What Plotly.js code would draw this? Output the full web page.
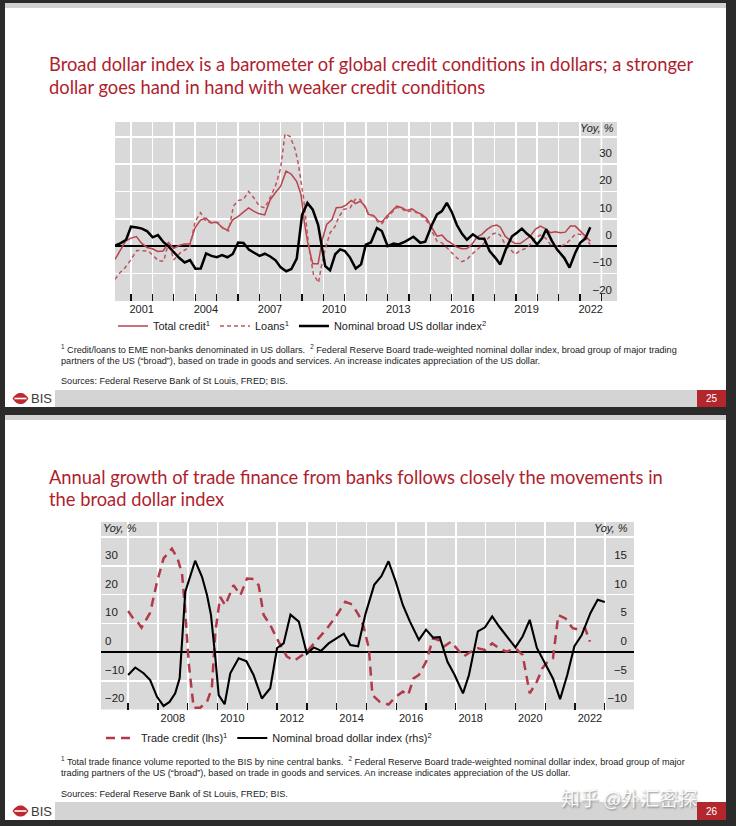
<!DOCTYPE html>
<html><head><meta charset="utf-8">
<script src="https://cdn.plot.ly/plotly-3.0.1.min.js"></script>
<style>html,body{margin:0;padding:0;background:#2b2b2b;overflow:hidden}#chart{width:736px;height:826px}</style>
</head><body><div id="chart"></div><script>
// ---------- Chart 1 data (Yoy, %) ----------
const c1DollarX = [2000.25,2000.52,2000.77,2001.0,2001.27,2001.51,2001.76,2002.01,2002.26,2002.51,2002.76,2003.01,2003.26,2003.51,2003.76,2004.01,2004.26,2004.51,2004.76,2005.01,2005.26,2005.51,2005.76,2006.01,2006.26,2006.51,2006.76,2007.01,2007.26,2007.51,2007.76,2008.0,2008.26,2008.5,2008.75,2009.0,2009.25,2009.5,2009.75,2009.92,2010.08,2010.31,2010.55,2010.78,2011.0,2011.25,2011.51,2011.76,2011.98,2012.22,2012.5,2012.73,2013.0,2013.28,2013.51,2013.82,2014.21,2014.53,2014.76,2015.07,2015.31,2015.54,2015.77,2016.0,2016.24,2016.48,2016.71,2016.99,2017.26,2017.52,2017.77,2018.04,2018.27,2018.53,2018.82,2019.05,2019.28,2019.52,2019.75,2019.99,2020.22,2020.42,2020.69,2020.92,2021.26,2021.51,2021.78,2022.01,2022.25,2022.48];
const c1DollarY = [0.2,1.1,2.3,7.1,6.8,6.4,5.4,3.2,4.0,1.5,-0.2,-2.3,-4.4,-6.0,-5.1,-8.3,-8.2,-2.7,-3.6,-4.1,-3.3,-4.1,-2.9,1.3,1.1,-1.3,-2.3,-3.6,-2.8,-3.8,-5.2,-7.8,-9.2,-8.4,-4.6,11.4,15.8,13.3,7.8,0.6,-7.3,-8.9,-3.0,-1.2,-1.8,-4.3,-8.2,-6.7,0.5,1.3,6.6,5.5,0.0,0.9,0.6,1.6,3.4,1.2,1.6,7.7,11.6,12.8,15.8,12.5,7.7,4.5,2.3,4.3,2.8,2.7,-1.8,-4.3,-6.7,-1.2,3.6,4.9,6.4,4.5,3.0,0.6,2.8,6.1,1.8,-1.2,-4.3,-7.9,-2.4,1.2,2.8,6.9];

const c1CreditX = [2000.25,2000.5,2000.75,2001.0,2001.25,2001.5,2001.75,2002.0,2002.25,2002.5,2002.75,2003.0,2003.25,2003.5,2003.75,2004.0,2004.25,2004.5,2004.75,2005.0,2005.25,2005.5,2005.75,2006.0,2006.25,2006.5,2006.75,2007.0,2007.25,2007.5,2007.75,2008.0,2008.25,2008.5,2008.75,2008.95,2009.1,2009.25,2009.5,2009.75,2009.95,2010.15,2010.4,2010.6,2010.85,2011.05,2011.3,2011.5,2011.72,2011.95,2012.11,2012.34,2012.58,2012.73,2012.97,2013.2,2013.43,2013.67,2013.9,2014.14,2014.37,2014.6,2014.84,2015.07,2015.31,2015.54,2015.77,2016.01,2016.24,2016.48,2016.71,2016.94,2017.18,2017.41,2017.65,2017.88,2018.11,2018.27,2018.5,2018.74,2018.97,2019.21,2019.44,2019.67,2019.91,2020.14,2020.38,2020.61,2020.84,2021.08,2021.31,2021.55,2021.78,2022.01,2022.24,2022.48];
const c1CreditY = [-4.9,-1.5,1.9,2.9,3.5,1.0,-0.5,-1.0,-2.0,-1.8,1.2,-0.8,0.2,0.8,0.8,6.8,9.5,10.2,8.5,8.8,6.8,5.8,9.6,10.8,12.3,14.0,12.7,11.8,11.4,16.8,19.5,21.9,27.4,26.3,23.6,18.9,9.1,1.8,-6.5,-6.5,2.4,7.9,9.7,14.0,14.2,15.0,16.7,15.5,16.4,14.6,11.6,11.2,9.1,8.8,11.0,13.0,14.6,14.0,13.0,13.6,12.4,11.6,10.0,6.7,3.6,4.0,2.1,0.9,-0.4,-1.0,-0.9,0.6,3.3,4.3,6.1,7.3,7.7,6.9,3.6,2.1,0.9,0.9,2.1,3.6,6.1,7.3,6.4,4.9,5.2,4.9,5.1,7.3,7.3,5.5,3.6,1.8];

const c1LoansX = [2000.25,2000.49,2000.72,2000.95,2001.27,2001.58,2001.81,2002.05,2002.3,2002.53,2002.76,2003.0,2003.3,2003.6,2003.75,2004.0,2004.25,2004.5,2004.75,2005.09,2005.32,2005.56,2005.79,2006.02,2006.25,2006.5,2006.75,2007.0,2007.25,2007.5,2007.75,2008.0,2008.2,2008.44,2008.68,2008.83,2009.07,2009.3,2009.53,2009.77,2009.89,2010.08,2010.31,2010.55,2010.7,2010.94,2011.25,2011.48,2011.72,2011.95,2012.11,2012.34,2012.58,2012.73,2012.97,2013.2,2013.43,2013.67,2013.9,2014.14,2014.37,2014.6,2014.84,2015.07,2015.31,2015.54,2015.77,2016.01,2016.24,2016.48,2016.71,2016.94,2017.18,2017.41,2017.65,2017.88,2018.11,2018.27,2018.5,2018.74,2018.97,2019.21,2019.44,2019.67,2019.91,2020.14,2020.38,2020.61,2020.84,2021.08,2021.31,2021.55,2021.78,2022.01,2022.24,2022.48];
const c1LoansY = [-12.2,-9.7,-7.9,-5.5,-1.6,-1.8,-1.8,-3.6,-5.5,-5.5,1.5,-5.0,-2.5,-1.0,-0.1,9.0,12.2,9.1,8.5,8.5,6.3,5.5,14.6,16.7,17.0,20.0,17.6,14.6,14.0,17.6,21.9,28.6,41.0,40.1,35.3,29.8,17.6,0.6,-10.3,-13.4,-7.9,-1.2,4.9,7.3,10.3,13.4,14.0,17.0,17.0,14.2,11.3,11.0,8.5,8.2,10.3,12.5,14.2,13.6,12.5,13.0,12.2,11.0,9.1,5.5,1.8,1.2,-0.6,-2.4,-4.3,-5.7,-4.9,-3.0,-1.2,0.2,2.4,4.3,4.9,4.0,0.6,-1.2,-3.0,-1.6,-0.9,0.6,3.0,4.0,3.0,0.6,0.0,0.0,0.6,2.4,4.3,4.3,2.8,0.6];

const c1YearLabels = ['2001','2004','2007','2010','2013','2016','2019','2022'];
const c1YTicks = [-20,-10,0,10,20,30,40];
const c1YText = ['\u221220','\u221210','0','10','20','30',''];

// ---------- Chart 2 data ----------
const c2TradeX = [2007.0,2007.17,2007.33,2007.45,2007.74,2007.97,2008.19,2008.47,2008.66,2008.81,2008.92,2009.03,2009.2,2009.42,2009.65,2009.81,2009.93,2010.09,2010.26,2010.54,2010.77,2010.99,2011.21,2011.38,2011.55,2011.77,2012.05,2012.33,2012.58,2013.0,2013.34,2013.68,2014.01,2014.29,2014.52,2014.74,2014.9,2015.08,2015.2,2015.44,2015.74,2015.98,2016.22,2016.4,2016.58,2016.76,2017.0,2017.24,2017.42,2017.6,2017.84,2018.02,2018.26,2018.5,2018.74,2018.98,2019.22,2019.46,2019.7,2020.0,2020.24,2020.48,2020.72,2020.9,2021.08,2021.26,2021.44,2021.68,2021.92,2022.16,2022.34,2022.5];
const c2TradeY = [14.3,11.7,10.3,8.5,13.7,24.4,32.6,36.0,32.6,27.3,14.0,-3.4,-19.4,-19.4,-17.3,-12.6,7.1,19.2,16.3,23.3,19.8,25.6,25.4,23.3,12.9,9.4,3.6,-1.6,-3.0,0.1,4.2,8.2,12.9,17.5,16.6,12.9,9.0,1.3,-15.0,-17.3,-18.3,-15.6,-13.8,-15.0,-9.2,-8.0,-3.4,4.8,4.2,1.9,3.6,1.3,-1.6,0.1,1.3,0.7,3.0,1.3,0.1,1.3,-1.0,-14.4,-10.3,-5.7,-3.4,-2.2,12.9,11.7,8.3,7.7,8.3,3.6];

const c2DollarX = [2007.0,2007.24,2007.52,2007.74,2007.97,2008.19,2008.39,2008.58,2008.73,2008.92,2009.25,2009.48,2009.65,2009.78,2009.93,2010.04,2010.24,2010.43,2010.71,2010.97,2011.21,2011.49,2011.77,2012.0,2012.22,2012.45,2012.73,2013.0,2013.23,2013.48,2013.73,2014.01,2014.24,2014.46,2014.72,2014.96,2015.26,2015.5,2015.74,2015.98,2016.22,2016.46,2016.76,2017.0,2017.24,2017.46,2017.72,2017.96,2018.24,2018.44,2018.74,2018.98,2019.22,2019.46,2019.7,2020.0,2020.24,2020.48,2020.72,2020.96,2021.26,2021.5,2021.74,2021.98,2022.22,2022.52,2022.76,2023.0];
const c2DollarY = [-4.0,-2.7,-3.7,-4.9,-7.8,-9.4,-8.7,-7.2,-4.6,10.5,15.9,13.1,9.9,6.5,-1.1,-7.5,-9.1,-3.7,-1.1,-1.6,-4.0,-8.1,-6.3,0.7,1.5,6.5,5.3,-0.3,0.8,0.2,1.5,2.4,3.2,1.2,1.0,6.5,11.7,13.2,15.8,12.3,8.2,5.3,2.1,3.9,2.5,2.6,-1.7,-4.0,-7.2,-4.0,3.6,4.3,6.2,4.4,2.7,0.8,2.7,5.6,0.7,-1.7,-4.6,-8.2,-4.0,1.0,2.9,6.8,9.1,8.7];

const c2YearLabels = ['2008','2010','2012','2014','2016','2018','2020','2022'];
const c2LTicks = [-20,-10,0,10,20,30,40];
const c2LText = ['\u221220','\u221210','0','10','20','30',''];
const c2RTicks = [-10,-5,0,5,10,15];
const c2RText = ['\u221210','\u22125','0','5','10','15'];

// ---------- text ----------
const t1a = 'Broad dollar index is a barometer of global credit conditions in dollars; a stronger';
const t1b = 'dollar goes hand in hand with weaker credit conditions';
const t2a = 'Annual growth of trade finance from banks follows closely the movements in';
const t2b = 'the broad dollar index';
const f1a = ['1', ' Credit/loans to EME non-banks denominated in US dollars.\u00a0 ', '2', ' Federal Reserve Board trade-weighted nominal dollar index, broad group of major trading'];
const f1b = 'partners of the US (\u201cbroad\u201d), based on trade in goods and services. An increase indicates appreciation of the US dollar.';
const f2a = ['1', ' Total trade finance volume reported to the BIS by nine central banks.\u00a0 ', '2', ' Federal Reserve Board trade-weighted nominal dollar index, broad group of major'];
const f2b = 'trading partners of the US (\u201cbroad\u201d), based on trade in goods and services. An increase indicates appreciation of the US dollar.';
const src = 'Sources: Federal Reserve Bank of St Louis, FRED; BIS.';

// ---------- layout helpers ----------
const W = 736, H = 826;
const px = x => x / W;
const py = y => 1 - y / H;
const FT = 'Lato, "Open Sans", sans-serif';
const FN = '"Liberation Sans", Arial, sans-serif';
const RED = '#b01e2e';
const GRAY = '#d9d9d9';

const cv = document.createElement('canvas').getContext('2d');
function measure(text, family, size) { cv.font = size + 'px ' + family; return cv.measureText(text).width; }
function fit(text, family, target) { return 100 * target / measure(text, family, 100); }

const titleSize = Math.min(19, fit(t1a, FT, 646));
const noteSize = Math.min(10, fit(f2a.join(''), FN, 628));
const legendSize = Math.min(12, fit('Nominal broad US dollar index', FN, 148));
const tickSize = 11;

function rect(x0, y0, x1, y1, fill) {
  return {type:'rect', xref:'paper', yref:'paper', x0:px(x0), x1:px(x1), y0:py(y1), y1:py(y0),
          fillcolor:fill, line:{width:0}, layer:'below'};
}
function txt(x, y, text, font, extra) {
  return Object.assign({xref:'paper', yref:'paper', x:px(x), y:py(y), text:text, showarrow:false,
    xanchor:'left', yanchor:'middle', borderpad:0, font:font}, extra || {});
}
function logo(cx, cy) {
  const p = (x, y) => px(x).toFixed(5) + ',' + py(y).toFixed(5);
  const path = 'M' + p(cx-8, cy) + ' Q' + p(cx-4, cy-6) + ' ' + p(cx, cy-5.5) + ' Q' + p(cx+4, cy-6) + ' ' + p(cx+8, cy) +
               ' Q' + p(cx+4, cy+6) + ' ' + p(cx, cy+5.5) + ' Q' + p(cx-4, cy+6) + ' ' + p(cx-8, cy) + ' Z';
  return [
    {type:'path', xref:'paper', yref:'paper', path:path, fillcolor:'#c0282f', line:{width:0}, layer:'below'},
    {type:'line', xref:'paper', yref:'paper', x0:px(cx-6), x1:px(cx+6), y0:py(cy), y1:py(cy), line:{color:'#ffffff', width:1.6}, layer:'below'}
  ];
}
const note = parts => '<sup>' + parts[0] + '</sup>' + parts[1] + '<sup>' + parts[2] + '</sup>' + parts[3];
// year gridline through the label column (plotly hides grid behind inside labels)
const yearGrid = (xr, yr, yearVal) => ({type:'line', xref:xr, yref:yr + ' domain', x0:yearVal, x1:yearVal, y0:0, y1:1,
                                       line:{color:'#ffffff', width:1.6}, layer:'below'});

const shapes = [
  rect(5, 3, 726, 407, '#ffffff'),
  rect(5, 3, 726, 8, '#d2d2d2'),
  rect(5, 390, 726, 407, '#d4d4d4'),
  rect(5, 390, 55, 407, '#ffffff'),
  rect(697, 390, 726, 407, '#b3262c'),
  rect(115, 122, 617, 301, GRAY),
  rect(5, 415, 726, 820, '#ffffff'),
  rect(5, 415, 726, 420, '#d2d2d2'),
  rect(5, 802, 726, 820, '#d4d4d4'),
  rect(5, 802, 55, 820, '#ffffff'),
  rect(697, 802, 726, 820, '#b3262c'),
  rect(101, 522, 634, 709.5, GRAY),
  yearGrid('x', 'y', 2023),
  yearGrid('x2', 'y2', 2007),
  yearGrid('x2', 'y2', 2023)
].concat(logo(20.5, 398.5), logo(20.5, 811));

const fTitle = {family:FT, size:titleSize, color:RED};
const fNote = {family:FN, size:noteSize, color:'#222'};
const fYoy = {family:FN, size:11, color:'#222', style:'italic'};
const annotations = [
  txt(48, 64, t1a, fTitle),
  txt(48, 87, t1b, fTitle),
  txt(615, 128, 'Yoy, %', fYoy, {xanchor:'right'}),
  txt(60, 349, note(f1a), fNote),
  txt(60, 361, f1b, fNote),
  txt(60, 381, src, fNote),
  txt(30, 398.5, 'BIS', {family:FN, size:13, color:'#3a3a3a'}),
  txt(711.5, 398.5, '25', {family:FN, size:10, color:'#ffffff'}, {xanchor:'center'}),
  txt(48, 477, t2a, fTitle),
  txt(48, 499, t2b, fTitle),
  txt(102, 528, 'Yoy, %', fYoy),
  txt(629, 528, 'Yoy, %', fYoy, {xanchor:'right'}),
  txt(60, 761, note(f2a), fNote),
  txt(60, 773, f2b, fNote),
  txt(60, 794, src, fNote),
  txt(30, 811, 'BIS', {family:FN, size:13, color:'#3a3a3a'}),
  txt(711.5, 811, '26', {family:FN, size:10, color:'#ffffff'}, {xanchor:'center'}),
  txt(560, 797, '\u77e5\u4e4e @\u5916\u6c47\u5bc6\u63a2',
      {family:'"Noto Sans CJK SC",sans-serif', size:19, color:'rgba(255,255,255,0.92)', shadow:'1px 1px 2px #777'})
];

function yearAxis(domain, range, labels, anchor) {
  return {
    domain: domain, anchor: anchor, range: range, type:'linear',
    tickmode:'array', tickvals: labels.map(s => Number(s) + 0.5), ticktext: labels,
    ticks:'', showgrid:false, zeroline:false, showline:false, ticklabeloverflow:'allow',
    tickfont:{family:FN, size:tickSize, color:'#222'},
    minor:{tickmode:'linear', tick0:2000, dtick:1, ticks:'inside', ticklen:7, tickwidth:1.3, tickcolor:'#111',
           showgrid:true, gridcolor:'#ffffff', gridwidth:1.6},
    fixedrange:true
  };
}

const traces = [
  {x:c1CreditX, y:c1CreditY, type:'scatter', mode:'lines', name:'Total credit<sup>1</sup>',
   line:{color:'#b8434d', width:1.5}, xaxis:'x', yaxis:'y', legend:'legend'},
  {x:c1LoansX, y:c1LoansY, type:'scatter', mode:'lines', name:'Loans<sup>1</sup>',
   line:{color:'#c0545d', width:1.5, dash:'4px,3px'}, xaxis:'x', yaxis:'y', legend:'legend'},
  {x:c1DollarX, y:c1DollarY, type:'scatter', mode:'lines', name:'Nominal broad US dollar index<sup>2</sup>',
   line:{color:'#000000', width:2.5}, xaxis:'x', yaxis:'y', legend:'legend'},
  {x:c2TradeX, y:c2TradeY, type:'scatter', mode:'lines', name:'Trade credit (lhs)<sup>1</sup>',
   line:{color:'#b03a4a', width:2.5, dash:'9px,6px'}, xaxis:'x2', yaxis:'y2', legend:'legend2'},
  {x:c2DollarX, y:c2DollarY, type:'scatter', mode:'lines', name:'Nominal broad dollar index (rhs)<sup>2</sup>',
   line:{color:'#000000', width:2.1}, xaxis:'x2', yaxis:'y3', legend:'legend2'}
];

const c2LRange = [-20.03, 45.3];
const yFont = {family:FN, size:tickSize + 0.5, color:'#222'};
const layout = {
  width: W, height: H, margin:{l:0, r:0, t:0, b:0, pad:0},
  paper_bgcolor:'#2b2b2b', plot_bgcolor:'rgba(0,0,0,0)',
  font:{family:FN, color:'#222'},
  showlegend:true,
  xaxis: yearAxis([px(115), px(617)], [2000.25, 2023.73], c1YearLabels, 'y'),
  yaxis: {domain:[py(301), py(122)], anchor:'x', side:'right', range:[-20.1, 45.4],
          tickmode:'array', tickvals:c1YTicks, ticktext:c1YText, ticks:'',
          ticklabelposition:'inside', ticklabelshift:-11, ticklabelstandoff:2, ticklabeloverflow:'allow',
          showgrid:true, gridcolor:'#ffffff', gridwidth:1.6,
          zeroline:true, zerolinecolor:'#000000', zerolinewidth:2,
          showline:false, tickfont:yFont, fixedrange:true},
  xaxis2: yearAxis([px(101), px(634)], [2006.09, 2023.98], c2YearLabels, 'y2'),
  yaxis2: {domain:[py(709.5), py(522)], anchor:'x2', side:'left', range:c2LRange,
          tickmode:'array', tickvals:c2LTicks, ticktext:c2LText, ticks:'',
          ticklabelposition:'inside', ticklabelshift:-11, ticklabelstandoff:1, ticklabeloverflow:'allow',
          showgrid:true, gridcolor:'#ffffff', gridwidth:1.6,
          zeroline:true, zerolinecolor:'#000000', zerolinewidth:1.5,
          showline:false, tickfont:yFont, fixedrange:true},
  yaxis3: {overlaying:'y2', anchor:'x2', side:'right', range:[c2LRange[0]/2, c2LRange[1]/2],
          tickmode:'array', tickvals:c2RTicks, ticktext:c2RText, ticks:'',
          ticklabelposition:'inside', ticklabelshift:-11, ticklabelstandoff:4, ticklabeloverflow:'allow',
          showgrid:false, zeroline:false, showline:false,
          tickfont:yFont, fixedrange:true},
  legend: {orientation:'h', x:px(113), y:py(326), xanchor:'left', yanchor:'middle',
           bgcolor:'rgba(0,0,0,0)', font:{family:FN, size:legendSize, color:'#222'}, itemwidth:30, traceorder:'normal'},
  legend2: {orientation:'h', x:px(101), y:py(738), xanchor:'left', yanchor:'middle',
           bgcolor:'rgba(0,0,0,0)', font:{family:FN, size:legendSize, color:'#222'}, itemwidth:30, traceorder:'normal'},
  shapes: shapes,
  annotations: annotations
};

Plotly.newPlot('chart', traces, layout, {staticPlot:true, displayModeBar:false});
</script></body></html>
